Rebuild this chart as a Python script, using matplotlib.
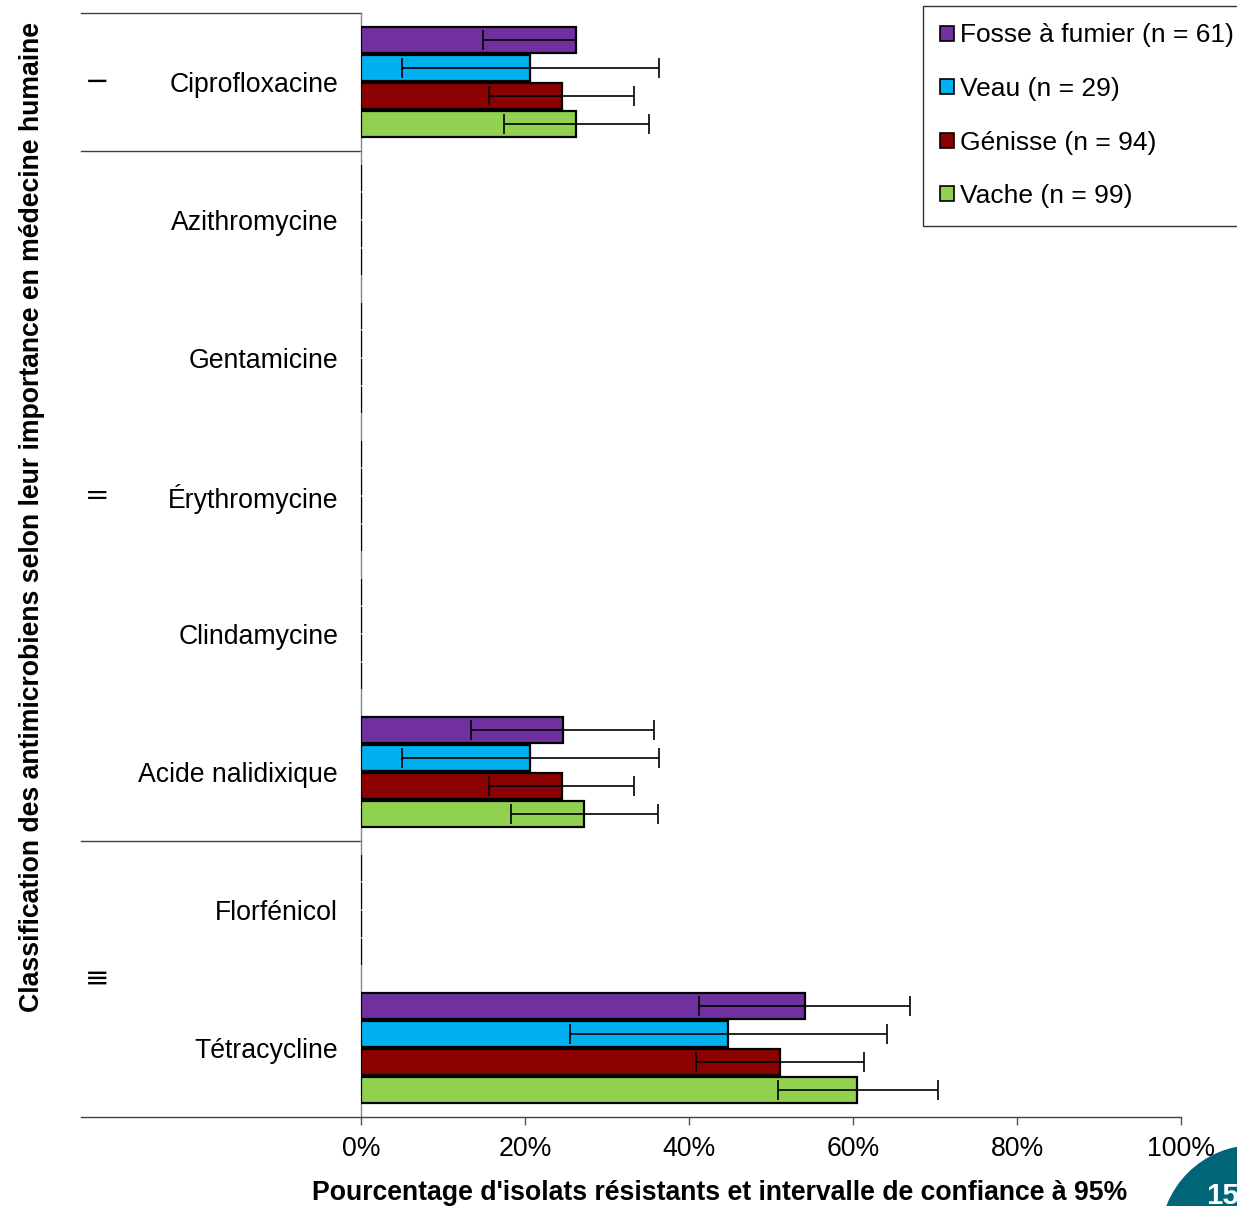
import matplotlib
matplotlib.use("Agg")
import matplotlib.pyplot as plt
import matplotlib.transforms as mtransforms
from matplotlib.patches import Patch, Circle
import numpy as np

plt.rcParams['font.family'] = ['Liberation Sans', 'DejaVu Sans']

categories = ["Ciprofloxacine", "Azithromycine", "Gentamicine", "Érythromycine",
              "Clindamycine", "Acide nalidixique", "Florfénicol", "Tétracycline"]
series_names = ["Fosse à fumier (n = 61)", "Veau (n = 29)", "Génisse (n = 94)", "Vache (n = 99)"]
colors = ["#7030A0", "#00B0F0", "#8B0000", "#92D050"]

nan = np.nan
fosse = [26.2, 0, 0, 0, 0, 24.6, 0, 54.1]
fosse_lo = [14.9, nan, nan, nan, nan, 13.4, nan, 41.2]
fosse_hi = [26.2, nan, nan, nan, nan, 35.7, nan, 67.0]
veau = [20.6, 0, 0, 0, 0, 20.6, 0, 44.8]
veau_lo = [5.0, nan, nan, nan, nan, 5.0, nan, 25.5]
veau_hi = [36.3, nan, nan, nan, nan, 36.3, nan, 64.1]
genisse = [24.5, 0, 0, 0, 0, 24.5, 0, 51.1]
genisse_lo = [15.6, nan, nan, nan, nan, 15.6, nan, 40.8]
genisse_hi = [33.3, nan, nan, nan, nan, 33.3, nan, 61.4]
vache = [26.2, 0, 0, 0, 0, 27.2, 0, 60.5]
vache_lo = [17.4, nan, nan, nan, nan, 18.3, nan, 50.8]
vache_hi = [35.1, nan, nan, nan, nan, 36.2, nan, 70.4]

values = [fosse, veau, genisse, vache]
lows = [fosse_lo, veau_lo, genisse_lo, vache_lo]
highs = [fosse_hi, veau_hi, genisse_hi, vache_hi]

group_symbols = ["\u2212", "=", "\u2261"]
group_positions = [0, 3, 6.5]     # category positions where symbols sit
separators = [-0.5, 0.5, 5.5, 7.5]

xticks = [0, 20, 40, 60, 80, 100]
xticklabels = ["0%", "20%", "40%", "60%", "80%", "100%"]

W, H = 1237, 1206
fig = plt.figure(figsize=(W / 100, H / 100), dpi=100)
ax = fig.add_axes([361 / W, 1 - 1117 / H, 820 / W, 1104 / H])

fs = 19.2
h = 28 / 138
y = np.arange(len(categories))
for j, (vals, lo, hi, col, name) in enumerate(zip(values, lows, highs, colors, series_names)):
    yy = y + (j - 1.5) * h
    vals = np.array(vals, dtype=float)
    ax.barh(yy, vals, height=h * 0.93, color=col, edgecolor="black", linewidth=1.6,
            label=name, zorder=2.7)
    lo = np.array(lo, dtype=float)
    hi = np.array(hi, dtype=float)
    m = ~np.isnan(lo)
    xerr = np.vstack([vals[m] - lo[m], hi[m] - vals[m]])
    ax.errorbar(vals[m], yy[m], xerr=xerr, fmt="none", ecolor="black",
                elinewidth=1.2, capsize=7, capthick=1.2, zorder=3)

ax.set_xlim(0, 100)
ax.set_ylim(7.5, -0.5)
ax.set_xticks(xticks)
ax.set_xticklabels(xticklabels, fontsize=fs)
ax.set_yticks(y)
ax.set_yticklabels(categories, fontsize=fs)
ax.tick_params(axis="y", length=0, pad=16.5)
ax.tick_params(axis="x", direction="out", length=6, width=1, color="#555555", pad=8)

for s in ["top", "right"]:
    ax.spines[s].set_visible(False)
ax.spines["left"].set_color("#888888")
ax.spines["left"].set_linewidth(1.0)
ax.spines["bottom"].set_color("#404040")
ax.spines["bottom"].set_linewidth(1.0)

trans = mtransforms.blended_transform_factory(ax.transAxes, ax.transData)
x_left = -(361 - 81) / 820
for sy in separators:
    ax.plot([x_left, 0], [sy, sy], color="#404040", lw=1.0, transform=trans,
            clip_on=False, zorder=1)

for sym, gp in zip(group_symbols, group_positions):
    ax.text(-(361 - 97) / 820, gp, sym, transform=trans, ha="center", va="center",
            fontsize=21, color="black", family="DejaVu Sans")

fig.text(32 / W, 1 - 517 / H,
         "Classification des antimicrobiens selon leur importance en médecine humaine",
         rotation=90, ha="center", va="center", fontsize=fs, fontweight="bold")
fig.text(720 / W, 1 - 1193 / H,
         "Pourcentage d'isolats résistants et intervalle de confiance à 95%",
         ha="center", va="center", fontsize=fs, fontweight="bold")

handles = [Patch(facecolor=c, edgecolor="black", linewidth=1.2) for c in colors]
leg = fig.legend(handles, series_names, loc="upper left",
                 bbox_to_anchor=(923 / W, 1 - 6 / H), fontsize=19,
                 frameon=True, fancybox=False, edgecolor="black",
                 handlelength=0.5, handleheight=0.5, handletextpad=0.25,
                 labelspacing=1.12, borderpad=0.66, borderaxespad=0)
leg.get_frame().set_linewidth(1.0)

circ = Circle((1255, H - 1240), 95, transform=None, facecolor="#006677",
              edgecolor="none", zorder=5)
fig.patches.append(circ)
fig.text(1206 / W, 1 - 1196 / H, "15", color="white", fontsize=fs + 2,
         fontweight="bold", ha="left", va="center", zorder=6)

fig.savefig("out.png", dpi=100)
